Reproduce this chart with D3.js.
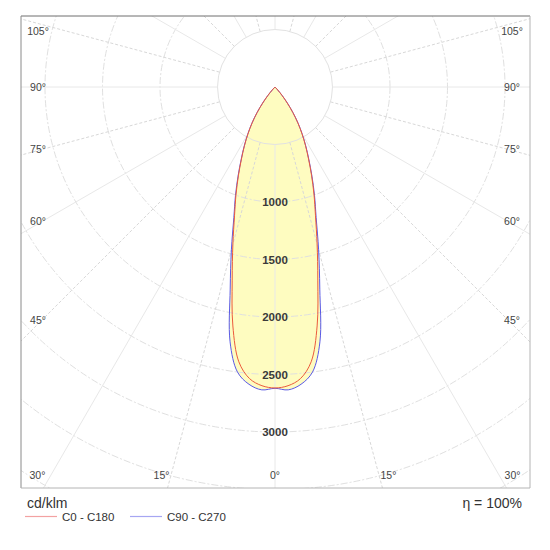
<!DOCTYPE html>
<html>
<head>
<meta charset="utf-8">
<script src="https://cdn.jsdelivr.net/npm/d3@7/dist/d3.min.js"></script>
<style>
  body { margin: 0; background: #fff; }
  svg { display: block; font-family: "Liberation Sans", Arial, sans-serif; }
</style>
</head>
<body>
<svg></svg>
<script>
// gamma angles (deg from nadir) and intensities in cd/klm, symmetric planes
var angles  = [0, 2.5, 5, 7.5, 10, 12.5, 15, 17.5, 20, 22.5, 25, 27.5, 30, 32.5, 35, 37.5, 40, 42.5, 45];
var c0c180  = [2617, 2600, 2545, 2410, 2110, 1720, 1415, 1170, 990, 830, 690, 575, 470, 370, 270, 175, 95, 35, 0];
var c90c270 = [2620, 2636, 2595, 2500, 2250, 1800, 1465, 1190, 1005, 840, 697, 580, 474, 374, 273, 178, 97, 36, 0];

var ringValues  = [500, 1000, 1500, 2000, 2500, 3000, 3500, 4000, 4500, 5000];
var ringLabels  = [1000, 1500, 2000, 2500, 3000];
var sideAngles  = [105, 90, 75, 60, 45];
var bottomAngles = [-30, -15, 0, 15, 30];

var width = 550,
	height = 550;
var frame = {left: 21, top: 16, right: 530, bottom: 488};
var cx = 275, cy = 87;

var svg = d3.select("svg")
	.attr("width", width)
	.attr("height", height);

var r = d3.scaleLinear().domain([0, 1000]).range([0, 115]);
var rad = function(d) { return d * Math.PI / 180; };

svg.append("defs").append("clipPath")
	.attr("id", "frameclip")
	.append("rect")
	.attr("x", frame.left)
	.attr("y", frame.top)
	.attr("width", frame.right - frame.left)
	.attr("height", frame.bottom - frame.top);

var plot = svg.append("g").attr("clip-path", "url(#frameclip)");

// closed polar curve for one C-plane pair, mirrored about nadir
function curvePoints(values) {
	var pts = [];
	for (var i = angles.length - 1; i > 0; i--) pts.push([-angles[i], values[i]]);
	for (var j = 0; j < angles.length; j++) pts.push([angles[j], values[j]]);
	return pts;
}

var line = d3.lineRadial()
	.angle(function(d) { return Math.PI - rad(d[0]); })
	.radius(function(d) { return r(d[1]); })
	.curve(d3.curveCatmullRom.alpha(0.5));

// yellow fill (union of both planes)
plot.append("path")
	.attr("transform", "translate(" + cx + "," + cy + ")")
	.attr("d", line(curvePoints(c90c270)) + line(curvePoints(c0c180)))
	.attr("fill", "#fefcc0")
	.attr("stroke", "none");

// rings
plot.selectAll(".ring")
	.data(ringValues)
	.enter()
	.append("circle")
	.attr("class", "ring")
	.attr("cx", cx)
	.attr("cy", cy)
	.attr("r", function(d) { return r(d); })
	.attr("fill", "none")
	.attr("stroke", function(d) { return d === 500 ? "#e2e2e2" : "#e0e0e0"; })
	.attr("stroke-width", 1)
	.attr("stroke-dasharray", function(d) { return d === 500 ? null : "7,2,2,2"; });

// spokes every 15 degrees
plot.selectAll(".spoke")
	.data(d3.range(0, 360, 15))
	.enter()
	.append("line")
	.attr("class", "spoke")
	.attr("x1", function(d) { return cx + r(500) * Math.sin(rad(d)); })
	.attr("y1", function(d) { return cy + r(500) * Math.cos(rad(d)); })
	.attr("x2", function(d) { return cx + r(6000) * Math.sin(rad(d)); })
	.attr("y2", function(d) { return cy + r(6000) * Math.cos(rad(d)); })
	.attr("stroke", function(d) { return d % 30 === 0 ? "#e8e8e8" : "#d8d8d8"; })
	.attr("stroke-width", 1)
	.attr("stroke-dasharray", function(d) { return d % 30 === 0 ? null : "3,2"; });

// curves
var curves = plot.append("g").attr("transform", "translate(" + cx + "," + cy + ")");
curves.append("path")
	.attr("d", line(curvePoints(c90c270)) + "Z")
	.attr("fill", "none")
	.attr("stroke", "#5a5ae6")
	.attr("stroke-width", 1);
curves.append("path")
	.attr("d", line(curvePoints(c0c180)) + "Z")
	.attr("fill", "none")
	.attr("stroke", "#ec5a3c")
	.attr("stroke-width", 1);

// ring value labels along nadir
svg.selectAll(".rlabel")
	.data(ringLabels)
	.enter()
	.append("text")
	.attr("class", "rlabel")
	.attr("x", cx)
	.attr("y", function(d) { return cy + r(d); })
	.attr("dy", "0.35em")
	.attr("text-anchor", "middle")
	.style("font-size", "11.5px")
	.style("font-weight", "bold")
	.style("fill", "#3a3a3a")
	.text(function(d) { return d; });

// side angle labels
var sideY = function(a) {
	if (a === 90) return cy;
	var y = cy + (cx - 42) / Math.tan(rad(a));
	return Math.max(y, frame.top + 15);
};
[38, 512].forEach(function(x) {
	svg.selectAll(".alabel" + x)
		.data(sideAngles)
		.enter()
		.append("text")
		.attr("x", x)
		.attr("y", function(d) { return sideY(d); })
		.attr("dy", "0.35em")
		.attr("text-anchor", "middle")
		.style("font-size", "10.5px")
		.style("fill", "#444")
		.text(function(d) { return d + "°"; });
});

// bottom angle labels
svg.selectAll(".blabel")
	.data(bottomAngles)
	.enter()
	.append("text")
	.attr("x", function(d) {
		var x = cx + (frame.bottom - cy) * Math.tan(rad(d));
		return x + (d < 0 ? -6 : d > 0 ? 6 : 0);
	})
	.attr("y", 475)
	.attr("dy", "0.35em")
	.attr("text-anchor", "middle")
	.style("font-size", "10.5px")
	.style("fill", "#444")
	.text(function(d) { return Math.abs(d) + "°"; });

// frame
svg.append("line").attr("x1", frame.left).attr("y1", frame.top).attr("x2", frame.right).attr("y2", frame.top)
	.attr("stroke", "#6e6e6e");
svg.append("line").attr("x1", frame.left).attr("y1", frame.top).attr("x2", frame.left).attr("y2", frame.bottom)
	.attr("stroke", "#8a8a8a");
svg.append("line").attr("x1", frame.right).attr("y1", frame.top).attr("x2", frame.right).attr("y2", frame.bottom)
	.attr("stroke", "#b4b4b4");
svg.append("line").attr("x1", frame.left).attr("y1", frame.bottom).attr("x2", frame.right).attr("y2", frame.bottom)
	.attr("stroke", "#b4b4b4");

// unit, efficiency and legend
svg.append("text")
	.attr("x", 27).attr("y", 508)
	.style("font-size", "14px").style("fill", "#333")
	.text("cd/klm");
svg.append("text")
	.attr("x", 522).attr("y", 508)
	.attr("text-anchor", "end")
	.style("font-size", "14px").style("fill", "#333")
	.text("η = 100%");

var legend = [
	{name: "C0 - C180", color: "#f3a2a2", x: 25},
	{name: "C90 - C270", color: "#a6a6f2", x: 130}
];
legend.forEach(function(l) {
	svg.append("line")
		.attr("x1", l.x).attr("x2", l.x + 32)
		.attr("y1", 516.5).attr("y2", 516.5)
		.attr("stroke", l.color)
		.attr("stroke-width", 1.2);
	svg.append("text")
		.attr("x", l.x + 37).attr("y", 521)
		.style("font-size", "11.5px").style("fill", "#333")
		.text(l.name);
});
</script>
</body>
</html>
